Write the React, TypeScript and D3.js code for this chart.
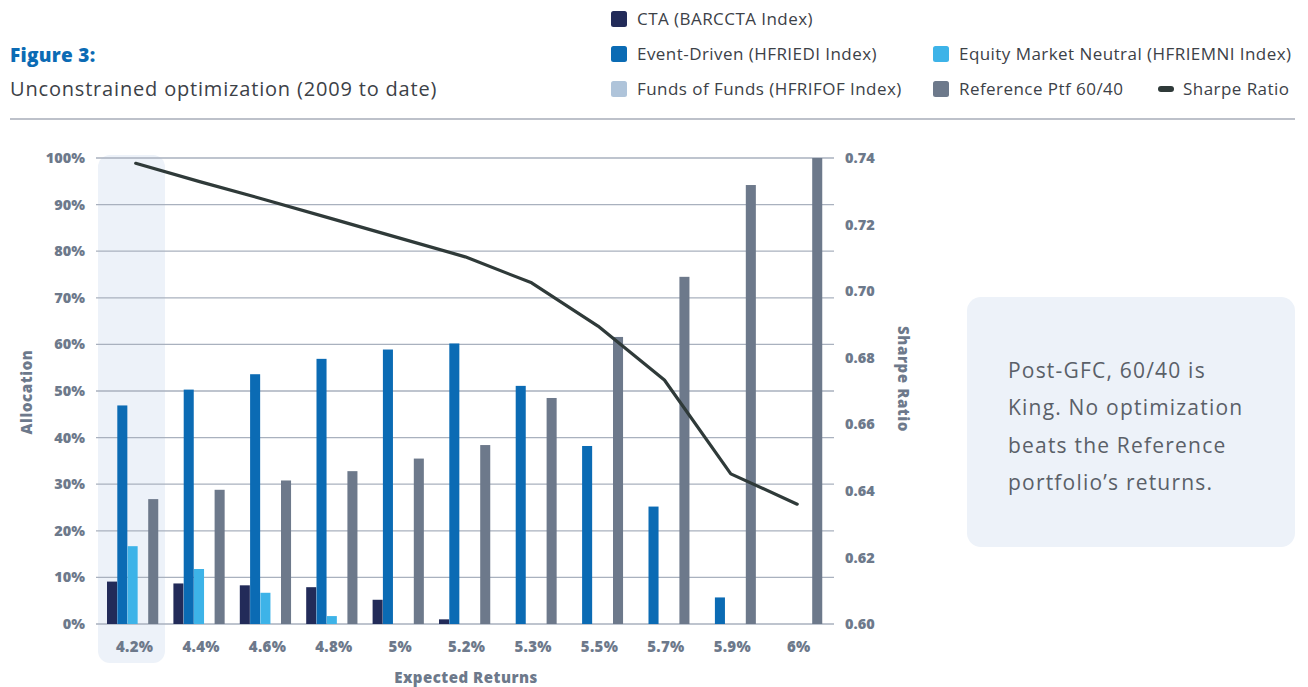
import React from 'react';
import * as d3 from 'd3';

const categories = ['4.2%', '4.4%', '4.6%', '4.8%', '5%', '5.2%', '5.3%', '5.5%', '5.7%', '5.9%', '6%'];
const seriesKeys = ['cta', 'eventDriven', 'equityMarketNeutral', 'fundsOfFunds', 'referencePtf'];
const seriesLabels = [
  'CTA (BARCCTA Index)',
  'Event-Driven (HFRIEDI Index)',
  'Equity Market Neutral (HFRIEMNI Index)',
  'Funds of Funds (HFRIFOF Index)',
  'Reference Ptf 60/40',
];
const seriesColors = ['#222B59', '#0B6BB4', '#3DB3E8', '#AFC4DA', '#6D798B'];
const cta = [9.1, 8.7, 8.3, 7.9, 5.2, 1.0, 0, 0, 0, 0, 0];
const eventDriven = [46.9, 50.3, 53.6, 56.9, 58.9, 60.2, 51.1, 38.2, 25.2, 5.7, 0];
const equityMarketNeutral = [16.7, 11.8, 6.7, 1.7, 0, 0, 0, 0, 0, 0, 0];
const fundsOfFunds = [0, 0, 0, 0, 0, 0, 0, 0, 0, 0, 0];
const referencePtf = [26.8, 28.8, 30.8, 32.8, 35.5, 38.4, 48.5, 61.6, 74.5, 94.2, 100];
const sharpeRatio = [0.7384, 0.7329, 0.7274, 0.7217, 0.716, 0.7103, 0.7025, 0.6895, 0.6733, 0.6451, 0.636];
const leftTicks = [0, 10, 20, 30, 40, 50, 60, 70, 80, 90, 100];
const rightTicks = [0.6, 0.62, 0.64, 0.66, 0.68, 0.7, 0.72, 0.74];
const noteLines = ['Post-GFC, 60/40 is', 'King. No optimization', 'beats the Reference', 'portfolio\u2019s returns.'];

const seriesValues = [cta, eventDriven, equityMarketNeutral, fundsOfFunds, referencePtf];

const FONT = '"Open Sans", "Noto Sans", sans-serif';
const AXIS = '#6D798B';
const TEXT = '#3C4147';

export default function App() {
  const x = d3.scaleBand<string>().domain(categories).range([100, 830.4]).padding(0);
  const x1 = d3.scaleBand<string>().domain(seriesKeys).range([7, 58.25]).paddingInner(0.025);
  const yL = d3.scaleLinear().domain([0, 100]).range([624, 158]);
  const yR = d3.scaleLinear().domain([0.6, 0.74]).range([624, 158]);
  const cx = (i: number) => (x(categories[i]) as number) + x.bandwidth() / 2;
  const line = d3
    .line<number>()
    .x((_, i) => cx(i) + (i === 0 ? 2.5 : 0))
    .y((d) => yR(d));

  const hx = x(categories[0]) as number;

  return (
    <svg width={1308} height={687} style={{ position: 'absolute', left: 0, top: 0, background: '#fff' }}>
      {/* Title */}
      <text x={10} y={62} fontFamily={FONT} fontWeight={800} fontSize={19} letterSpacing={0.3} fill="#0B6BB4">Figure 3:</text>
      <text x={10} y={96} fontFamily={FONT} fontSize={20} letterSpacing={0.82} fill={TEXT}>Unconstrained optimization (2009 to date)</text>

      {/* Legend */}
      {[
        { i: 0, lx: 611, ly: 19 },
        { i: 1, lx: 611, ly: 54 },
        { i: 2, lx: 933, ly: 54 },
        { i: 3, lx: 611, ly: 89 },
        { i: 4, lx: 933, ly: 89 },
      ].map(({ i, lx, ly }) => (
        <g key={i}>
          <rect x={lx} y={ly - 8} width={16} height={16} rx={2.5} fill={seriesColors[i]} />
          <text x={lx + 26} y={ly} dy="0.35em" fontFamily={FONT} fontSize={17} letterSpacing={0.45} fill={TEXT}>{seriesLabels[i]}</text>
        </g>
      ))}
      <line x1={1161} x2={1171} y1={89} y2={89} stroke="#2F3A39" strokeWidth={6} strokeLinecap="round" />
      <text x={1183} y={89} dy="0.35em" fontFamily={FONT} fontSize={17} letterSpacing={0.45} fill={TEXT}>Sharpe Ratio</text>

      <line x1={10} x2={1295} y1={119} y2={119} stroke="#A7ADB8" strokeWidth={1.5} />

      {/* Highlight */}
      <rect x={hx - 2} y={155} width={67} height={508} rx={12} fill="#EDF2F9" />

      {/* Grid */}
      {leftTicks.map((t) => (
        <line key={t} x1={96} x2={834} y1={yL(t)} y2={yL(t)} stroke="#A9B1BE" strokeWidth={1.3} />
      ))}

      {/* Left ticks */}
      {leftTicks.map((t) => (
        <text key={t} x={85} y={yL(t)} dy="0.35em" textAnchor="end" fontFamily={FONT} fontWeight={800} fontSize={14.5} fill={AXIS}>{t}%</text>
      ))}
      {/* Right ticks */}
      {rightTicks.map((t) => (
        <text key={t} x={845} y={yR(t)} dy="0.35em" fontFamily={FONT} fontWeight={800} fontSize={14.5} fill={AXIS}>{t.toFixed(2)}</text>
      ))}

      {/* Bars */}
      {categories.map((c, ci) => (
        <g key={c} transform={`translate(${x(c)},0)`}>
          {seriesKeys.map((k, si) => {
            const v = seriesValues[si][ci];
            if (!v) return null;
            return (
              <rect key={k} x={x1(k)} y={yL(v)} width={x1.bandwidth()} height={yL(0) - yL(v)} fill={seriesColors[si]} />
            );
          })}
        </g>
      ))}

      {/* Sharpe line */}
      <path d={line(sharpeRatio) as string} fill="none" stroke="#2F3A39" strokeWidth={3.2} strokeLinecap="round" strokeLinejoin="round" />

      {/* X labels */}
      {categories.map((c, i) => (
        <text key={c} x={cx(i) + 1.5} y={647} dy="0.35em" textAnchor="middle" fontFamily={FONT} fontWeight={800} fontSize={15} letterSpacing={0.3} fill={AXIS}>{c}</text>
      ))}

      {/* Axis titles */}
      <text x={466} y={678} dy="0.35em" textAnchor="middle" fontFamily={FONT} fontWeight={800} fontSize={15} letterSpacing={0.5} fill={AXIS}>Expected Returns</text>
      <text transform="translate(27,392) rotate(-90)" dy="0.35em" textAnchor="middle" fontFamily={FONT} fontWeight={800} fontSize={15} letterSpacing={0.6} fill={AXIS}>Allocation</text>
      <text transform="translate(903,379) rotate(90)" dy="0.35em" textAnchor="middle" fontFamily={FONT} fontWeight={800} fontSize={15} letterSpacing={0.6} fill={AXIS}>Sharpe Ratio</text>

      {/* Note box */}
      <rect x={967} y={297} width={328} height={250} rx={14} fill="#EDF2F9" />
      {noteLines.map((l, i) => (
        <text key={i} x={1008} y={378 + i * 37.3} fontFamily={FONT} fontWeight={400} fontSize={21} letterSpacing={1.2} fill="#5A6068">{l}</text>
      ))}
    </svg>
  );
}
